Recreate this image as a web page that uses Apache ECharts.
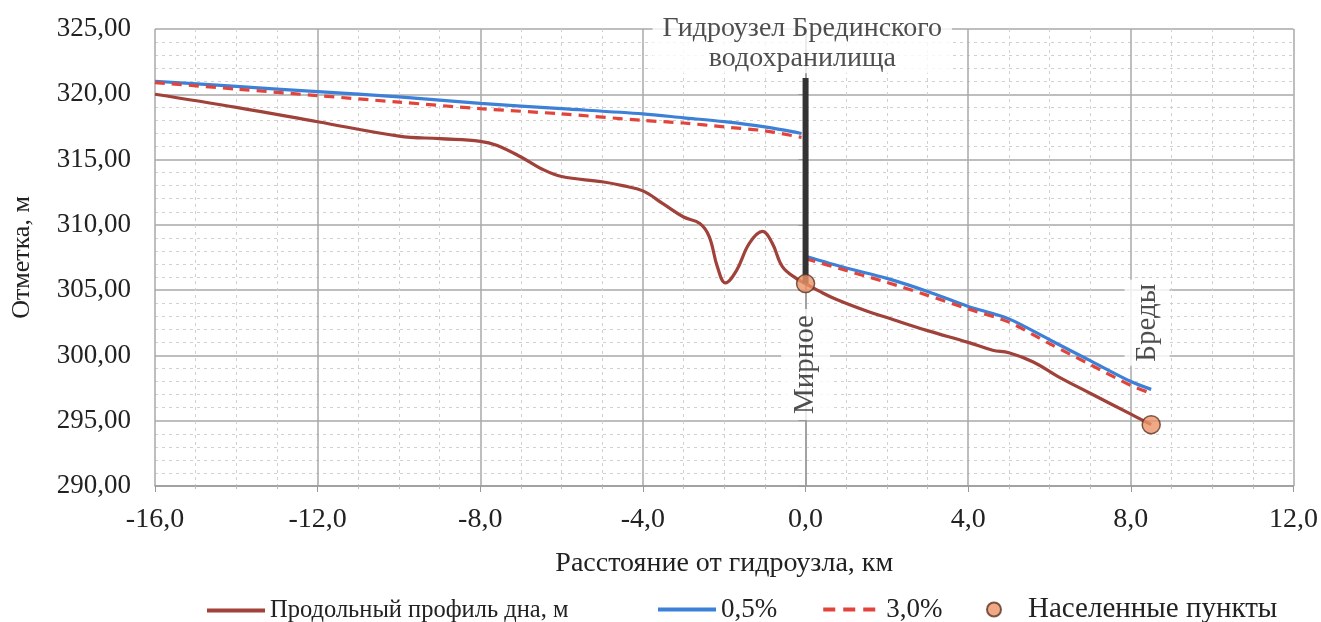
<!DOCTYPE html>
<html><head><meta charset="utf-8">
<script src="https://cdn.jsdelivr.net/npm/echarts@6/dist/echarts.min.js"></script>
<style>html,body{margin:0;padding:0;background:#fff}#c{width:1321px;height:622px}</style>
</head><body><div id="c"></div>
<script>
// ---- data ----
const profileX = [-16, -14, -12, -10, -9, -8, -7.6, -7, -6.5, -6, -5, -4.5, -4, -3.5, -3, -2.6, -2.37, -2.17, -1.97, -1.7, -1.38, -1.06, -0.82, -0.57, -0.23, 0, 0.35, 0.75, 1.5, 2, 3, 4, 4.6, 5, 5.6, 6.2, 7, 8, 8.5];
const profileY = [320.0, 319.0, 317.9, 316.8, 316.6, 316.4, 316.1, 315.2, 314.3, 313.7, 313.3, 313.0, 312.6, 311.6, 310.6, 310.1, 309.1, 306.8, 305.55, 306.5, 308.6, 309.5, 308.6, 306.8, 305.9, 305.5, 304.9, 304.3, 303.4, 302.9, 301.9, 301.0, 300.4, 300.2, 299.5, 298.4, 297.1, 295.5, 294.7];

const p05UpX = [-16, -14, -12, -10, -8, -6, -4, -3, -2, -1, -0.1];
const p05UpY = [321.0, 320.6, 320.2, 319.8, 319.3, 318.9, 318.5, 318.2, 317.9, 317.5, 317.0];
const p05DownX = [0, 1, 2, 3, 4, 5, 6, 7, 8, 8.5];
const p05DownY = [307.6, 306.7, 305.9, 304.9, 303.75, 302.8, 301.2, 299.6, 298.0, 297.4];

const p3UpX = [-16, -14, -12, -10, -8, -6, -4, -3, -2, -1, -0.1];
const p3UpY = [320.9, 320.4, 319.9, 319.4, 318.9, 318.5, 318.0, 317.8, 317.5, 317.2, 316.7];
const p3DownX = [0, 1, 2, 3, 4, 5, 6, 7, 8, 8.5];
const p3DownY = [307.4, 306.5, 305.6, 304.6, 303.55, 302.55, 300.9, 299.3, 297.7, 297.1];

const settlementX = [0, 8.5];
const settlementY = [305.5, 294.7];
const settlementNames = ['Мирное', 'Бреды'];

const damX = [0, 0];
const damY = [305.5, 321.25];
const damTitle = 'Гидроузел Брединского\nводохранилища';

const xTicks = [-16, -12, -8, -4, 0, 4, 8, 12];
const yTicks = [290, 295, 300, 305, 310, 315, 320, 325];

const names = ['Продольный профиль дна, м', '0,5%', '3,0%', 'Населенные пункты'];

const zip = (xs, ys) => xs.map((x, i) => [x, ys[i]]);
const fmt = (v, d) => v.toFixed(d).replace('.', ',');

const FONT = '"Liberation Serif", "Times New Roman", serif';
const TXT = '#222';
const BROWN = '#A0413A', BLUE = '#3D80D8', RED = '#E2433A';
const legItem = (n, extra) => ({name: n, itemStyle: {opacity: 0}, lineStyle: Object.assign({width: 4}, extra || {})});

const chart = echarts.init(document.getElementById('c'), null, {renderer: 'canvas'});
chart.setOption({
  backgroundColor: '#fff',
  animation: false,
  textStyle: {fontFamily: FONT},
  grid: {left: 155, right: 26, top: 29, bottom: 136, containLabel: false},
  legend: [
    {data: [legItem(names[0])], left: 200, top: 593, itemWidth: 58, itemHeight: 14,
     textStyle: {fontFamily: FONT, fontSize: 24.5, color: TXT}},
    {data: [legItem(names[1]), legItem(names[2], {type: [12, 8]})],
     left: 651, top: 591, itemWidth: 58, itemHeight: 14, itemGap: 44,
     textStyle: {fontFamily: FONT, fontSize: 27, color: TXT}},
    {data: [names[3]], left: 981, top: 590, itemWidth: 58, itemHeight: 14,
     textStyle: {fontFamily: FONT, fontSize: 29, color: TXT}}
  ],
  xAxis: {
    type: 'value', min: xTicks[0], max: xTicks[xTicks.length - 1], interval: 4,
    name: 'Расстояние от гидроузла, км', nameLocation: 'middle', nameGap: 64,
    nameTextStyle: {fontFamily: FONT, fontSize: 28, color: TXT},
    axisLine: {show: true, onZero: false, lineStyle: {color: '#999', width: 1.5}},
    axisTick: {show: true, length: 6, lineStyle: {color: '#999'}},
    axisLabel: {margin: 20, fontFamily: FONT, fontSize: 28, color: TXT, formatter: v => fmt(v, 1)},
    splitLine: {show: true, lineStyle: {color: '#a8a8a8', width: 1.5}},
    minorTick: {show: true, splitNumber: 4, length: 3, lineStyle: {color: '#bbb'}},
    minorSplitLine: {show: true, lineStyle: {color: '#d0d0d0', width: 1, type: [3, 4]}}
  },
  yAxis: {
    type: 'value', min: yTicks[0], max: yTicks[yTicks.length - 1], interval: 5,
    name: 'Отметка, м', nameLocation: 'middle', nameGap: 120, nameRotate: 90,
    nameTextStyle: {fontFamily: FONT, fontSize: 26, color: TXT},
    axisLine: {show: true, lineStyle: {color: '#999', width: 1.5}},
    axisTick: {show: true, length: 7, lineStyle: {color: '#999'}},
    axisLabel: {margin: 24, fontFamily: FONT, fontSize: 27, color: TXT, formatter: v => fmt(v, 2)},
    splitLine: {show: true, lineStyle: {color: '#a8a8a8', width: 1.5}},
    minorTick: {show: false, splitNumber: 5},
    minorSplitLine: {show: true, lineStyle: {color: '#d0d0d0', width: 1, type: [3, 4]}}
  },
  series: [
    {name: names[1], type: 'line', data: zip(p05UpX, p05UpY), smooth: 0.3, showSymbol: false, symbol: 'none',
     lineStyle: {color: BLUE, width: 3.2}, itemStyle: {color: BLUE}, z: 3},
    {name: names[1], type: 'line', data: zip(p05DownX, p05DownY), smooth: 0.3, showSymbol: false, symbol: 'none',
     lineStyle: {color: BLUE, width: 3.2}, itemStyle: {color: BLUE}, z: 3},
    {name: names[2], type: 'line', data: zip(p3UpX, p3UpY), smooth: 0.3, showSymbol: false, symbol: 'none',
     lineStyle: {color: RED, width: 3.2, type: [10, 7]}, itemStyle: {color: RED}, z: 4},
    {name: names[2], type: 'line', data: zip(p3DownX, p3DownY), smooth: 0.3, showSymbol: false, symbol: 'none',
     lineStyle: {color: RED, width: 3.2, type: [10, 7]}, itemStyle: {color: RED}, z: 4},
    {name: names[0], type: 'line', data: zip(profileX, profileY), smooth: 0.4, showSymbol: false, symbol: 'none',
     lineStyle: {color: BROWN, width: 3.2}, itemStyle: {color: BROWN}, z: 5},
    // dam
    {name: 'dam', type: 'line', data: zip(damX, damY), showSymbol: false, symbol: 'none',
     lineStyle: {color: '#333', width: 6, cap: 'butt'}, z: 6, silent: true},
    {name: names[3], type: 'scatter', data: zip(settlementX, settlementY), symbol: 'circle', symbolSize: 18,
     itemStyle: {color: '#EB9468', borderColor: '#5a3322', borderWidth: 1.5}, z: 8},
    // annotations (label anchors in data coordinates)
    {name: 'labels', type: 'scatter', symbolSize: 0, silent: true, z: 7,
     data: [
       {value: [0, 299.3], label: {formatter: settlementNames[0], padding: [10, 6, 10, 6]}},
       {value: [8.4, 302.5], label: {formatter: settlementNames[1], padding: [8, 4, 8, 4]}},
       {value: [-0.08, 323.9], label: {formatter: damTitle, rotate: 0, fontSize: 28, lineHeight: 30, padding: [0, 10, 0, 10]}}
     ],
     label: {show: true, position: 'inside', rotate: 90, fontFamily: FONT, fontSize: 29, color: TXT,
             backgroundColor: '#fff'}}
  ]
});
</script></body></html>
